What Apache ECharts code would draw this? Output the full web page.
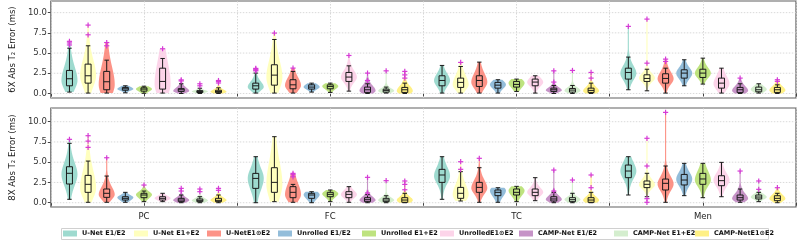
<!DOCTYPE html>
<html><head><meta charset="utf-8">
<script src="https://cdn.jsdelivr.net/npm/echarts@6/dist/echarts.min.js"></script>
<style>html,body{margin:0;padding:0;background:#fff}#c{width:797px;height:240px}</style>
</head><body><div id="c"></div><script>
const groups = ['PC', 'FC', 'TC', 'Men'];
const methods = ['U-Net E1/E2', 'U-Net E1+E2', 'U-NetE1⊙E2', 'Unrolled E1/E2', 'Unrolled E1+E2', 'UnrolledE1⊙E2', 'CAMP-Net E1/E2', 'CAMP-Net E1+E2', 'CAMP-NetE1⊙E2'];
const colors = ['#8dd3c7', '#ffffb3', '#fb8072', '#80b1d3', '#b3de69', '#fccde5', '#bc80bd', '#ccebc5', '#ffed6f'];
const yTicks = [0, 2.5, 5, 7.5, 10];
const xTickPos = [0, 5, 10, 15, 20, 25, 30, 35, 40];
const xLabelPos = [5, 15, 25, 35];

// box stats [lowWhisker, Q1, median, Q3, highWhisker]; rows = methods, cols = PC, FC, TC, Men
const box6X = [
  [[0.17,0.95,1.82,2.85,5.6],[0.05,0.54,0.95,1.28,2.52],[0.05,0.95,1.61,2.19,3.47],[0.46,1.78,2.6,3.13,4.5]],
  [[0.05,1.28,2.19,3.63,5.9],[0.05,1.03,2.27,3.55,6.68],[0.05,0.75,1.37,1.9,3.34],[0.33,1.49,1.86,2.31,3.0]],
  [[0.05,0.46,1.45,2.73,4.12],[0.05,0.58,1.07,1.7,2.73],[0.05,0.87,1.61,2.19,3.88],[0.05,1.28,1.86,2.44,3.13]],
  [[0.08,0.4,0.58,0.75,0.95],[0.17,0.54,0.79,1.07,1.28],[0.05,0.66,1.03,1.37,1.7],[0.95,1.9,2.52,2.93,4.17]],
  [[0.02,0.29,0.54,0.7,0.9],[0.13,0.58,0.87,1.07,1.28],[0.25,0.79,1.12,1.49,1.78],[1.16,1.98,2.52,3.0,4.37]],
  [[0.05,0.54,1.49,3.13,4.33],[0.29,1.49,2.03,2.6,3.42],[0.05,0.95,1.41,1.78,2.19],[0.05,0.66,1.28,1.9,3.13]],
  [[0.0,0.25,0.46,0.6,1.2],[0.0,0.13,0.46,0.79,1.2],[0.0,0.25,0.46,0.66,0.99],[0.0,0.13,0.46,0.75,1.2]],
  [[0.0,0.12,0.25,0.35,0.65],[0.05,0.17,0.38,0.54,0.79],[0.0,0.17,0.42,0.62,0.99],[0.05,0.21,0.46,0.79,1.2]],
  [[0.0,0.1,0.25,0.4,0.7],[0.0,0.13,0.46,0.75,1.28],[0.0,0.13,0.38,0.66,1.28],[0.0,0.13,0.46,0.75,1.07]]
];
const out6X = [
  [[6.0,6.25,6.45],[2.8,2.9,3.0,3.1],[],[8.3]],
  [[7.26,8.46],[7.47],[3.84],[3.75,9.2]],
  [[5.9,6.3],[3.14],[],[3.96,4.25]],
  [[],[],[],[]],
  [[],[],[],[]],
  [[5.53],[4.7],[],[]],
  [[1.55,1.68],[1.61,2.52],[1.41,2.8],[1.9]],
  [[0.95,1.2],[2.8],[2.85],[]],
  [[1.3,1.5,1.6],[1.9,2.3,2.73],[1.9,2.6],[1.5,1.7]]
];
const mode6X = [
  [1.6,0.8,1.6,2.5],[2.2,2.0,1.1,1.9],[1.1,1.0,1.4,1.8],[0.55,0.8,1.1,2.5],[0.55,0.9,1.3,2.5],
  [1.2,2.0,1.4,1.2],[0.3,0.35,0.4,0.35],[0.25,0.3,0.35,0.5],[0.2,0.3,0.3,0.4]
];

const box8X = [
  [[0.42,2.31,3.63,4.44,7.33],[0.0,1.77,3.0,3.62,5.68],[0.42,2.51,3.42,4.12,5.68],[0.95,3.09,3.91,4.65,5.68]],
  [[0.05,1.28,2.27,3.37,5.14],[0.13,1.28,2.51,4.32,8.15],[0.21,0.54,1.16,1.89,3.83],[0.74,1.86,2.27,2.68,3.63]],
  [[0.05,0.66,1.16,1.69,3.29],[0.05,0.62,1.28,1.98,2.26],[0.05,1.28,1.89,2.51,4.32],[0.05,1.57,2.39,2.92,4.53]],
  [[0.05,0.33,0.54,0.74,1.28],[0.0,0.54,0.95,1.16,1.36],[0.05,0.87,1.28,1.57,1.85],[0.87,2.19,2.8,3.49,4.86]],
  [[0.13,0.62,0.95,1.16,1.44],[0.13,0.74,1.03,1.28,1.57],[0.13,0.95,1.28,1.69,2.02],[0.62,2.27,2.93,3.62,4.86]],
  [[0.13,0.33,0.54,0.74,1.16],[0.05,0.62,1.03,1.36,1.98],[0.25,0.87,1.28,1.69,3.09],[0.74,2.1,2.72,3.33,4.98]],
  [[0.0,0.13,0.33,0.54,0.95],[0.0,0.13,0.37,0.62,1.0],[0.0,0.21,0.46,0.74,1.28],[0.05,0.33,0.62,0.95,1.69]],
  [[0.0,0.13,0.29,0.46,0.74],[0.0,0.13,0.33,0.54,0.86],[0.0,0.13,0.37,0.62,1.16],[0.13,0.46,0.7,0.95,1.28]],
  [[0.0,0.13,0.29,0.54,0.95],[0.0,0.05,0.33,0.62,1.16],[0.0,0.05,0.33,0.62,1.28],[0.0,0.25,0.54,0.86,1.16]]
];
const out8X = [
  [[7.82],[],[],[]],
  [[6.83,7.6,8.27],[],[4.12,5.06],[0.05,0.5,4.53,7.95]],
  [[5.55],[3.2,3.45,3.62],[5.48],[11.15]],
  [[],[],[],[]],
  [[2.18],[],[],[]],
  [[],[],[],[]],
  [[1.44,1.77],[1.2,3.13],[1.44,4.03],[3.91]],
  [[1.36,1.69],[2.72],[2.8],[1.65,2.68]],
  [[1.53,1.77],[1.6,2.26,2.68],[1.85,3.42],[1.85]]
];
const mode8X = [
  [3.5,3.0,3.3,3.9],[1.8,2.3,1.0,2.2],[1.0,1.0,1.8,2.3],[0.65,1.0,1.5,2.9],[1.0,1.1,1.5,2.8],
  [0.55,1.0,1.3,2.8],[0.3,0.3,0.4,0.5],[0.25,0.3,0.4,0.7],[0.3,0.3,0.3,0.5]
];

const panels = [
  {box: box6X, out: out6X, mode: mode6X, name: '6X Abs T\u2082 Error (ms)', top: 1, height: 97, min: -0.56, max: 11.44, labels: false},
  {box: box8X, out: out8X, mode: mode8X, name: '8X Abs T\u2082 Error (ms)', top: 108, height: 99, min: -0.53, max: 11.69, labels: true}
];

const VW = 0.43, BW = 0.16, CW = 0.12;
const FLIER = '#d63ad6', INK = '#1a1a1a';

function makeRender(box, out, mode, color) {
  return function (params, api) {
    const g = params.dataIndex;
    const x = api.value(0);
    const [lo, q1, med, q3, hi] = box[g];
    const outs = out[g];
    const md = mode[g];
    const bot = Math.min(lo, ...outs);
    const top = Math.max(hi, ...outs);
    const iqr = Math.max(q3 - q1, 0.1);
    const sLow = Math.max(md - q1, iqr * 0.5) * 1.35;
    const sUp = Math.max(q3 - md, iqr * 0.5) * 1.6;
    const N = 90, left = [], right = [];
    for (let i = 0; i <= N; i++) {
      const y = bot + (top - bot) * i / N;
      const d = y - md;
      const u = d / (d < 0 ? sLow : sUp);
      let f = Math.pow(1 + u * u / 4, -2.5);
      if (d > 0) f = Math.max(f, 0.07);
      const hw = VW * f;
      left.push(api.coord([x - hw, y]));
      right.unshift(api.coord([x + hw, y]));
    }
    const c = (xx, yy) => api.coord([xx, yy]);
    const line = (a, b, stroke, lw) => ({type: 'line', shape: {x1: a[0], y1: a[1], x2: b[0], y2: b[1]}, style: {stroke: stroke, lineWidth: lw}});
    const ch = [];
    ch.push({type: 'polygon', shape: {points: left.concat(right), smooth: 0}, style: {fill: color, opacity: 0.85}});
    ch.push(line(c(x, lo), c(x, q1), INK, 1));
    ch.push(line(c(x, q3), c(x, hi), INK, 1));
    ch.push(line(c(x - CW, lo), c(x + CW, lo), INK, 1));
    ch.push(line(c(x - CW, hi), c(x + CW, hi), INK, 1));
    const p1 = c(x - BW, q3), p2 = c(x + BW, q1);
    ch.push({type: 'rect', shape: {x: p1[0], y: p1[1], width: p2[0] - p1[0], height: p2[1] - p1[1]}, style: {fill: 'none', stroke: INK, lineWidth: 1}});
    ch.push(line(c(x - BW, med), c(x + BW, med), INK, 1));
    outs.forEach(v => {
      const p = c(x, v);
      ch.push(line([p[0] - 2.6, p[1]], [p[0] + 2.6, p[1]], FLIER, 1.2));
      ch.push(line([p[0], p[1] - 2.6], [p[0], p[1] + 2.6], FLIER, 1.2));
    });
    return {type: 'group', children: ch};
  };
}

const grids = [], xAxes = [], yAxes = [], series = [];
panels.forEach((p, pi) => {
  grids.push({left: 33, right: 1, top: p.top, height: p.height, show: true, borderColor: '#606060', borderWidth: 1.2, backgroundColor: '#fff'});
  xAxes.push({
    type: 'value', gridIndex: pi, min: 0, max: 40, interval: 1,
    axisLine: {show: false},
    axisTick: {show: true, customValues: xTickPos, length: 3, lineStyle: {color: '#444'}},
    axisLabel: {show: p.labels, customValues: xLabelPos, formatter: v => groups[Math.round((v - 5) / 10)] || '', fontSize: 8.5, color: '#222', margin: 5, fontFamily: 'DejaVu Sans'},
    splitLine: {show: true, lineStyle: {color: '#cfcfcf', width: 0.8, type: [1.5, 1.5]}}
  });
  yAxes.push({
    type: 'value', gridIndex: pi, min: p.min, max: p.max,
    name: p.name, nameLocation: 'middle', nameGap: 25,
    nameTextStyle: {fontSize: 8.5, color: '#222', fontFamily: 'DejaVu Sans'},
    axisLine: {show: false},
    axisTick: {show: true, customValues: yTicks, length: 3, lineStyle: {color: '#444'}},
    axisLabel: {customValues: yTicks, formatter: v => v.toFixed(1), fontSize: 8.5, color: '#333', margin: 4, fontFamily: 'DejaVu Sans'},
    splitLine: {show: false}
  });
  series.push({
    type: 'custom', name: 'grid' + pi, xAxisIndex: pi, yAxisIndex: pi, silent: true, z: 1,
    data: yTicks.map(v => [0, v]),
    renderItem: (params, api) => {
      const y = api.coord([0, api.value(1)])[1];
      const cs = params.coordSys;
      return {type: 'line', shape: {x1: cs.x, y1: y, x2: cs.x + cs.width, y2: y}, style: {stroke: '#cfcfcf', lineWidth: 0.8, lineDash: [1.5, 1.5]}};
    }
  });
  methods.forEach((m, mi) => {
    series.push({
      type: 'custom', name: m, xAxisIndex: pi, yAxisIndex: pi, z: 2, silent: true,
      itemStyle: {color: colors[mi], opacity: 0.85},
      data: groups.map((g, gi) => [gi * 10 + mi + 1, gi]),
      renderItem: makeRender(p.box[mi], p.out[mi], p.mode[mi], colors[mi])
    });
  });
});

const legendLeft = [63, 134, 207, 278, 362, 440, 519, 614, 695];
const legends = methods.map((m, i) => ({
  data: [m], left: legendLeft[i], top: 230, padding: 0, itemWidth: 14, itemHeight: 6, itemGap: 0,
  selectedMode: false, icon: 'rect',
  textStyle: {fontSize: 6.5, fontWeight: 'bold', color: '#111', fontFamily: 'DejaVu Sans'}
}));

const chart = echarts.init(document.getElementById('c'), null, {renderer: 'canvas'});
chart.setOption({
  animation: false,
  backgroundColor: '#fff',
  grid: grids, xAxis: xAxes, yAxis: yAxes, series: series, legend: legends,
  graphic: [{type: 'rect', left: 61, top: 228, shape: {width: 707, height: 11}, style: {fill: '#fff', stroke: '#d0d0d0', lineWidth: 1}, z: 0}]
});
</script></body></html>
